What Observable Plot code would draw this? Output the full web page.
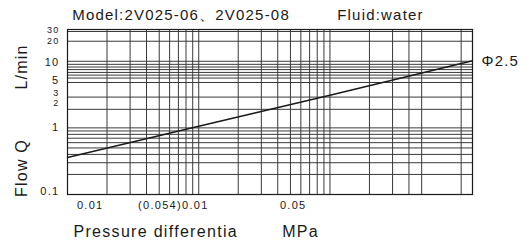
<!DOCTYPE html>
<html>
<head>
<meta charset="utf-8">
<script src="https://cdn.jsdelivr.net/npm/d3@7"></script>
<script src="https://cdn.jsdelivr.net/npm/@observablehq/plot@0.6"></script>
<style>
  body { margin: 0; background: #fff; }
  #chart svg { font-family: "Liberation Sans", Arial, sans-serif; }
</style>
</head>
<body>
<div id="chart"></div>
<script>
// Series: pressure differential (MPa) vs flow (L/min), Φ2.5 orifice
const pressure = [0.001, 0.01, 0.1, 1.22];
const flow = [0.36, 1.06, 3.1, 10.2];
const seriesLabel = "Φ2.5";

// Grid lines
const xGrid = [0.002, 0.003, 0.004, 0.005, 0.006, 0.007, 0.008, 0.009, 0.01,
               0.02, 0.03, 0.04, 0.05, 0.06, 0.07, 0.08, 0.09, 0.1,
               0.2, 0.3, 0.4, 0.5, 1.0];
const yGrid = [0.2, 0.3, 0.4, 0.5, 0.6, 0.7, 0.8, 0.9, 1,
               1.9, 2.9, 4.8, 5.6, 6.2, 6.8, 7.5, 8.2, 9, 10, 20, 28];

// Tick labels as printed
const yTickLabels = ["30", "20", "10", "5", "3", "2", "1", "0.1"];
const yTickPos = [29.3, 20.2, 9.7, 5.15, 3.35, 2.35, 1.01, 0.11];
const yTickSize = [9, 9, 11, 11, 9, 9, 11, 11];
const xTickLabels = ["0.01", "(0.054)0.01", "0.05"];
const xTickPos = [0.00149, 0.0064, 0.0525];

const titleLeft = "Model:2V025-06、2V025-08";
const titleRight = "Fluid:water";
const yTitleTop = "L/min";
const yTitleBottom = "Flow Q";
const xTitleLeft = "Pressure differentia";
const xTitleRight = "MPa";

const line = pressure.map((p, i) => ({p, q: flow[i]}));
const ink = "#1a1a1a";
const gridInk = "#3a3a3a";

const chart = Plot.plot({
  width: 529,
  height: 246,
  marginLeft: 67,
  marginRight: 57,
  marginTop: 29,
  marginBottom: 52,
  x: {type: "log", domain: [0.001, 1.22], axis: null},
  y: {type: "log", domain: [0.1, 30], axis: null},
  style: {background: "#fff", color: ink},
  marks: [
    Plot.ruleX(xGrid, {stroke: gridInk, strokeWidth: 1}),
    Plot.ruleY(yGrid, {stroke: gridInk, strokeWidth: 1}),
    Plot.frame({stroke: ink, strokeWidth: 1.2}),
    Plot.line(line, {x: "p", y: "q", stroke: ink, strokeWidth: 1.5}),
    Plot.text([line[line.length - 1]], {x: "p", y: "q", text: () => seriesLabel,
      textAnchor: "start", dx: 9, dy: 0, fontSize: 15, fill: ink, ariaDescription: "series-label"}),
    Plot.text(yTickLabels, {x: () => 0.001, y: (d, i) => yTickPos[i], text: d => d,
      textAnchor: "end", dx: -8, fontSize: (d, i) => yTickSize[i], fill: ink, ariaDescription: "ytick"}),
    Plot.text(xTickLabels, {x: (d, i) => xTickPos[i], y: () => 0.1, text: d => d,
      textAnchor: "middle", dy: 11, fontSize: 11, fill: ink, ariaDescription: "xtick"}),
    Plot.text([titleLeft], {frameAnchor: "top-left", text: d => d, textAnchor: "start",
      lineAnchor: "middle", dx: 4.7, dy: -14, fontSize: 15, fill: ink, ariaDescription: "title"}),
    Plot.text([titleRight], {frameAnchor: "top-left", text: d => d, textAnchor: "start",
      lineAnchor: "middle", dx: 269.7, dy: -14, fontSize: 15, fill: ink, ariaDescription: "title"}),
    Plot.text([yTitleTop], {frameAnchor: "left", text: d => d, rotate: -90,
      textAnchor: "middle", lineAnchor: "middle",
      dx: -46, dy: -45, fontSize: 16, fill: ink, ariaDescription: "ytitle"}),
    Plot.text([yTitleBottom], {frameAnchor: "left", text: d => d, rotate: -90,
      textAnchor: "middle", lineAnchor: "middle",
      dx: -46, dy: 56, fontSize: 16, fill: ink, ariaDescription: "ytitle"}),
    Plot.text([xTitleLeft], {frameAnchor: "bottom-left", text: d => d, textAnchor: "start",
      lineAnchor: "middle", dx: 6, dy: 37, fontSize: 16, fill: ink, ariaDescription: "xtitle"}),
    Plot.text([xTitleRight], {frameAnchor: "bottom-left", text: d => d, textAnchor: "start",
      lineAnchor: "middle", dx: 214.7, dy: 37, fontSize: 16, fill: ink, ariaDescription: "xtitle"})
  ]
});
document.getElementById("chart").appendChild(chart);

// Wide letter spacing as in the printed reference
const spacing = {"title": "1.2px", "ytitle": "1.2px", "xtitle": "1.3px",
                 "xtick": "1.3px", "ytick": "1.3px", "series-label": "1.2px"};
for (const [label, ls] of Object.entries(spacing)) {
  d3.select(chart).selectAll(`g[aria-description="${label}"] text`).style("letter-spacing", ls);
}
</script>
</body>
</html>
